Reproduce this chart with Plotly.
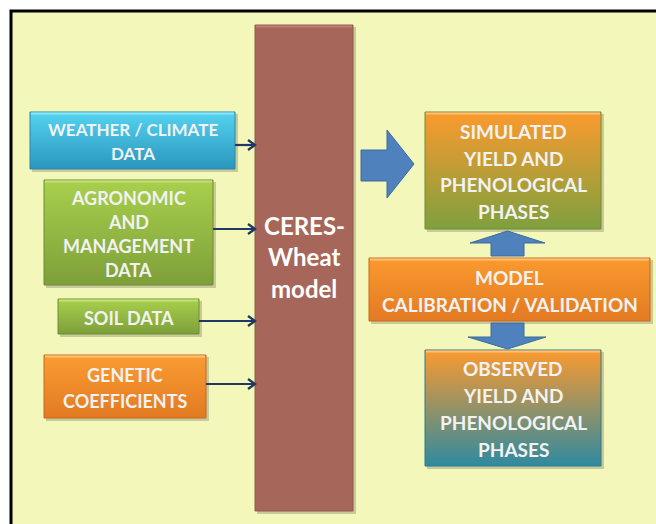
import plotly.graph_objects as go

W, H = 656, 524

# ---------------- content ----------------
input_labels = ["WEATHER / CLIMATE", "DATA"], ["AGRONOMIC", "AND", "MANAGEMENT", "DATA"], ["SOIL DATA"], ["GENETIC", "COEFFICIENTS"]
model_label = ["CERES-", "Wheat", "model"]
output_labels = (["SIMULATED", "YIELD AND", "PHENOLOGICAL", "PHASES"],
                 ["MODEL", "CALIBRATION / VALIDATION"],
                 ["OBSERVED", "YIELD AND", "PHENOLOGICAL", "PHASES"])

# colours (top, bottom, outline, highlight)
input_colors = [("#55D3F0", "#2A96BE", "#2A86AA", "#8FE6F8"),
                ("#A8D04C", "#7E9F3A", "#6E8C32", "#C4E27A"),
                ("#A8D04C", "#7E9F3A", "#6E8C32", "#C4E27A"),
                ("#FA9C32", "#E27A22", "#C8691C", "#FCC27A")]
model_color = ("#A6675A", "#A6675A", "#93584B", "#B98073")
output_colors = [("#FB9A2E", "#7EA03E", "#6E8C32", "#FCC27A"),
                 ("#FB9A2E", "#E27A22", "#C8691C", "#FCC27A"),
                 ("#FB9A2E", "#2F8AA0", "#2A7A8E", "#FCC27A")]

BG_YELLOW = "#F4F7BA"
ARROW_DARK = "#1F3864"
ARROW_BLUE = "#4F81BD"
ARROW_BLUE_EDGE = "#3B6A9E"

# ---------------- layout geometry (pixels) ----------------
input_geo = [dict(x0=30, x1=235, y0=112, y1=169, size=17, pitch=24),
             dict(x0=44, x1=213, y0=180, y1=285, size=18, pitch=24),
             dict(x0=58, x1=199, y0=299, y1=334, size=18, pitch=24),
             dict(x0=44, x1=206, y0=355, y1=418, size=18, pitch=26)]
model_geo = dict(x0=255, x1=353, y0=25, y1=511, size=24, pitch=31.5, yc=256.5)
output_geo = [dict(x0=425, x1=601, y0=112, y1=229, size=19, pitch=26.7),
              dict(x0=369, x1=650, y0=258, y1=321, size=19, pitch=27),
              dict(x0=425, x1=601, y0=350, y1=466, size=19, pitch=26.7)]

fig = go.Figure()
shapes = []
annotations = []

# frame
shapes.append(dict(type="rect", x0=11, x1=W + 10, y0=11, y1=H + 10,
                   fillcolor=BG_YELLOW, line=dict(color="black", width=3), layer="below"))


def add_box(g, colors, lines, font_color="#F2F2F2", yc=None):
    top, bot, edge, hi = colors
    # soft shadow
    shapes.append(dict(type="rect", x0=g["x0"] + 2, x1=g["x1"] + 3, y0=g["y0"] + 2, y1=g["y1"] + 3,
                       fillcolor="rgba(0,0,0,0.18)", line=dict(width=0), layer="below"))
    xs = [g["x0"], g["x1"], g["x1"], g["x0"], g["x0"]]
    ys = [g["y0"], g["y0"], g["y1"], g["y1"], g["y0"]]
    fig.add_trace(go.Scatter(
        x=xs, y=ys, mode="lines", fill="toself",
        fillgradient=dict(type="vertical", start=g["y0"], stop=g["y1"],
                          colorscale=[[0, top], [1, bot]]),
        line=dict(color=edge, width=1), hoverinfo="skip", showlegend=False))
    # bevel highlight along the top edge
    fig.add_trace(go.Scatter(x=[g["x0"] + 1, g["x1"] - 1], y=[g["y0"] + 1.5, g["y0"] + 1.5],
                             mode="lines", line=dict(color=hi, width=2),
                             hoverinfo="skip", showlegend=False))
    xc = (g["x0"] + g["x1"]) / 2
    if yc is None:
        yc = (g["y0"] + g["y1"]) / 2 + 1
    n = len(lines)
    for i, t in enumerate(lines):
        y = yc + (i - (n - 1) / 2) * g["pitch"]
        annotations.append(dict(x=xc, y=y, text="<b>%s</b>" % t, showarrow=False,
                                xanchor="center", yanchor="middle",
                                font=dict(family="Lato", size=g["size"], color=font_color)))


for g, c, l in zip(input_geo, input_colors, input_labels):
    add_box(g, c, l)
add_box(model_geo, model_color, model_label, font_color="#FFFFFF", yc=model_geo["yc"])
for g, c, l in zip(output_geo, output_colors, output_labels):
    add_box(g, c, l)


# thin input arrows into the model box
def thin_arrow(x0, x1, y):
    fig.add_trace(go.Scatter(x=[x0, x1, None, x1 - 7, x1, x1 - 7], y=[y, y, None, y - 5, y, y + 5],
                             mode="lines", line=dict(color=ARROW_DARK, width=2.2),
                             hoverinfo="skip", showlegend=False))


for g, y in zip(input_geo, [145, 229, 321, 384]):
    thin_arrow(g["x1"], model_geo["x0"], y)


# block arrows
def block(xs, ys):
    fig.add_trace(go.Scatter(x=xs, y=ys, mode="lines", fill="toself", fillcolor=ARROW_BLUE,
                             line=dict(color=ARROW_BLUE_EDGE, width=1),
                             hoverinfo="skip", showlegend=False))


# right-pointing arrow
block([361, 387, 387, 414, 387, 387, 361, 361], [150, 150, 130, 164, 198, 181, 181, 150])
# up arrow
block([491, 524, 524, 545, 507.5, 470, 491, 491], [256, 256, 243, 243, 231, 243, 243, 256])
# down arrow
block([491, 524, 524, 546, 507.5, 468, 491, 491], [323, 323, 337, 337, 349, 337, 337, 323])

fig.update_layout(
    width=W, height=H, autosize=False,
    margin=dict(l=0, r=0, t=0, b=0),
    paper_bgcolor="white", plot_bgcolor="white",
    xaxis=dict(range=[0, W], visible=False, fixedrange=True),
    yaxis=dict(range=[H, 0], visible=False, fixedrange=True),
    shapes=shapes, annotations=annotations,
)

fig.write_html("out.html", config={"displayModeBar": False},
               post_script="document.body.style.margin='0';")
